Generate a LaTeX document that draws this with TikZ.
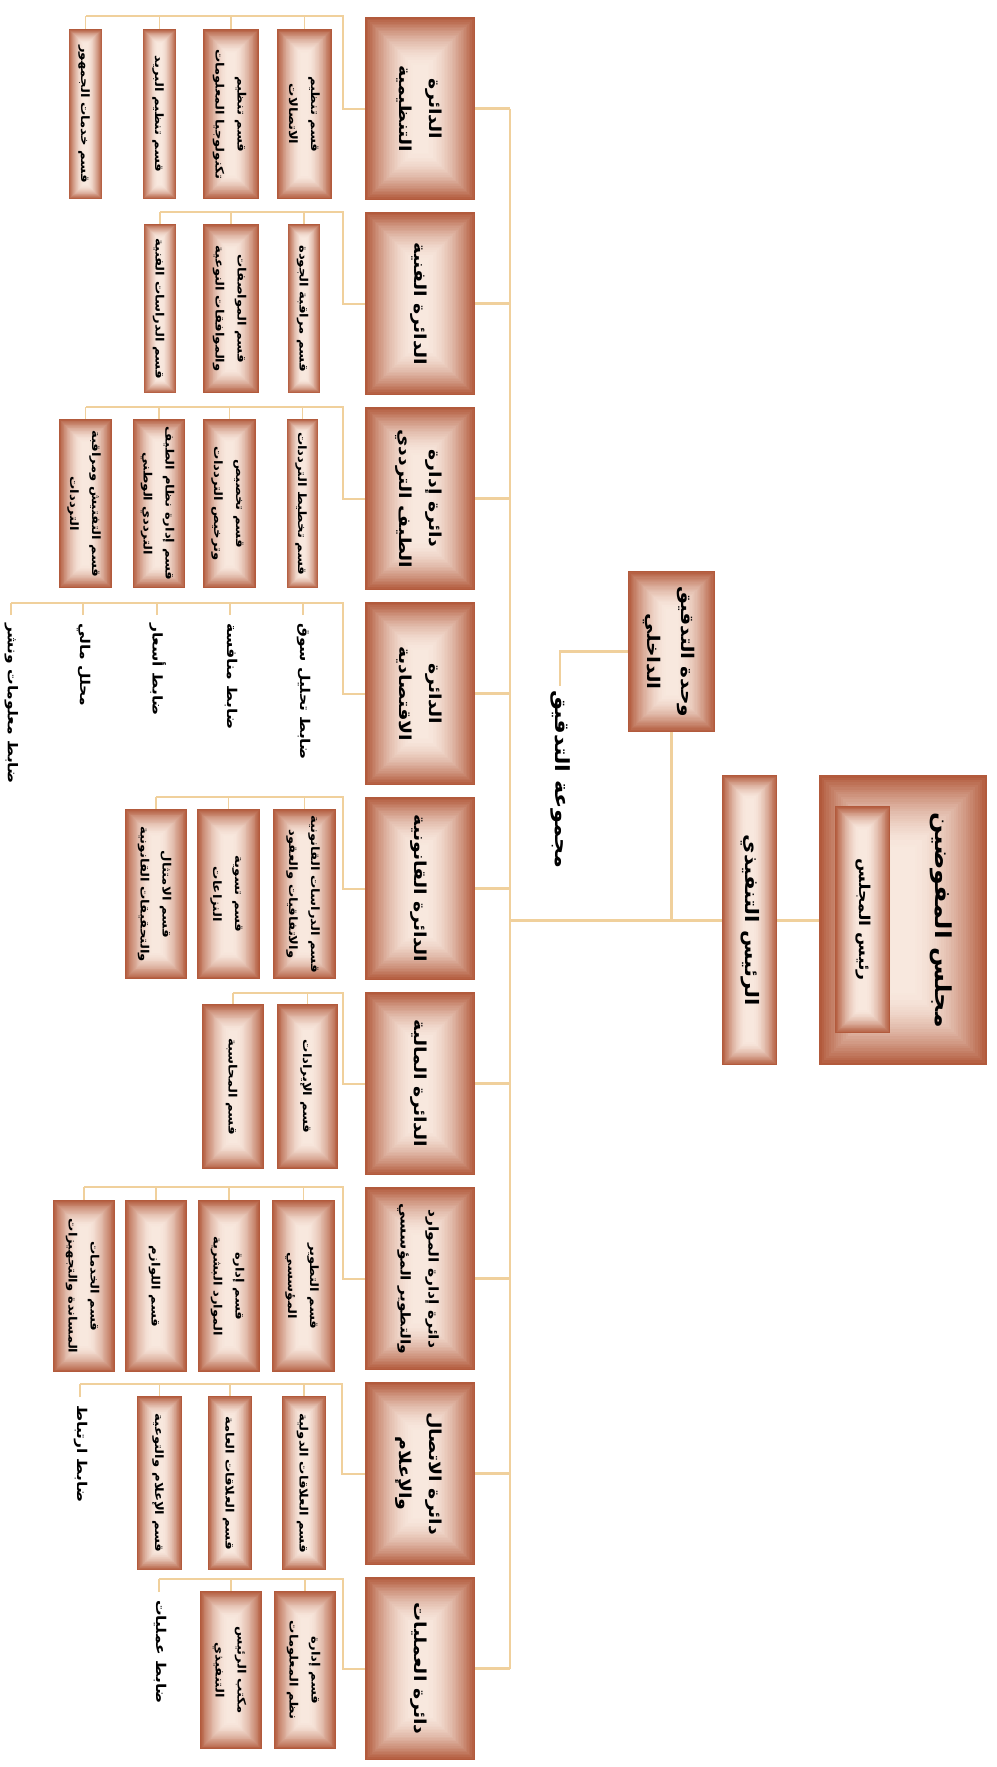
\documentclass[tikz,border=0pt]{standalone}
\usepackage{fontspec}
\usepackage{graphicx}
\newfontfamily\arabicfont[Script=Arabic]{DejaVu Sans}
\TeXXeTstate=1
\definecolor{gDark}{RGB}{178,90,60}
\definecolor{gLight}{RGB}{248,232,222}
\definecolor{lineC}{RGB}{240,208,156}
\newcommand\rl[1]{\beginR #1\endR}
\newcommand\rtxt[3]{\rotatebox{-90}{\scalebox{1.15}[1]{\fontsize{#1}{#2}\selectfont\arabicfont\bfseries\begin{tabular}{@{}c@{}}#3\end{tabular}}}}
\newcommand\sbx[6]{\node[gbox, minimum width=#4pt, minimum height=#5pt, anchor=north] (#1) at (#2,#3) {\rtxt{11.5}{22}{#6}};}
\begin{document}
\begin{tikzpicture}[x=1pt,y=-1pt,
  gbox/.style={rectangle, inner sep=0pt, path picture={%
    \pgfpointdiff{\pgfpointanchor{path picture bounding box}{south west}}{\pgfpointanchor{path picture bounding box}{north east}}%
    \pgfgetlastxy{\gw}{\gh}%
    \pgfmathsetmacro\gd{min(\gw,\gh)*0.43/30}%
    \foreach \i in {0,...,30}{%
      \pgfmathtruncatemacro\gp{100*(1-(1-\i/30)^1.7)}%
      \fill[gLight!\gp!gDark] ([xshift=\i*\gd pt, yshift=\i*\gd pt]path picture bounding box.south west) rectangle ([xshift=-\i*\gd pt, yshift=-\i*\gd pt]path picture bounding box.north east);
    }}},
  dbox/.style={gbox, minimum width=110pt, minimum height=183pt, anchor=north west},
  item/.style={anchor=north, inner sep=0pt},
  conn/.style={draw=lineC, line width=2.6pt},
  sconn/.style={draw=lineC, line width=1.8pt}]
\useasboundingbox (0,0) rectangle (996,1767);

% top of hierarchy
\node[gbox, minimum width=168pt, minimum height=290pt, anchor=north west] (board) at (819,775) {};
\node[gbox, minimum width=55pt, minimum height=227pt, anchor=north west] (chair) at (835,806) {\rtxt{15}{18}{\rl{رئيس المجلس}}};
\node (boardlbl) at (941,920) {\rtxt{22}{26}{\rl{مجلس المفوضين}}};
\node[gbox, minimum width=55pt, minimum height=290pt, anchor=north west] (ceo) at (722,775) {\rtxt{18.5}{22}{\rl{الرئيس التنفيذي}}};
\node[gbox, minimum width=87pt, minimum height=161pt, anchor=north west] (audit) at (628,571) {\rtxt{17.5}{34}{\rl{وحدة التدقيق}\\\rl{الداخلي}}};
\node[item] (alabel) at (560,690) {\rtxt{19.5}{22}{\rl{مجموعة التدقيق}}};

% departments
\node[dbox] (d1) at (365,17) {\rtxt{16.5}{30}{\rl{الدائرة}\\\rl{التنظيمية}}};
\node[dbox] (d2) at (365,212) {\rtxt{16.5}{30}{\rl{الدائرة الفنية}}};
\node[dbox] (d3) at (365,407) {\rtxt{16.5}{30}{\rl{دائرة إدارة}\\\rl{الطيف الترددي}}};
\node[dbox] (d4) at (365,602) {\rtxt{16.5}{30}{\rl{الدائرة}\\\rl{الاقتصادية}}};
\node[dbox] (d5) at (365,797) {\rtxt{16.5}{30}{\rl{الدائرة القانونية}}};
\node[dbox] (d6) at (365,992) {\rtxt{16.5}{30}{\rl{الدائرة المالية}}};
\node[dbox] (d7) at (365,1187) {\rtxt{13.5}{28}{\rl{دائرة إدارة الموارد}\\\rl{والتطوير المؤسسي}}};
\node[dbox] (d8) at (365,1382) {\rtxt{16.5}{30}{\rl{دائرة الاتصال}\\\rl{والإعلام}}};
\node[dbox] (d9) at (365,1577) {\rtxt{16.5}{30}{\rl{دائرة العمليات}}};

% sections
\sbx{s11}{304.5}{29}{55}{170}{\rl{قسم تنظيم}\\\rl{الاتصالات}}
\sbx{s12}{231}{29}{56}{170}{\rl{قسم تنظيم}\\\rl{تكنولوجيا المعلومات}}
\sbx{s13}{159.5}{29}{33}{170}{\rl{قسم تنظيم البريد}}
\sbx{s14}{85.5}{29}{33}{170}{\rl{قسم خدمات الجمهور}}

\sbx{s21}{304}{224}{32}{169}{\rl{قسم مراقبة الجودة}}
\sbx{s22}{231}{224}{56}{169}{\rl{قسم المواصفات}\\\rl{والموافقات النوعية}}
\sbx{s23}{160}{224}{32}{169}{\rl{قسم الدراسات الفنية}}

\sbx{s31}{302.5}{419}{31}{169}{\rl{قسم تخطيط الترددات}}
\sbx{s32}{229.5}{419}{53}{169}{\rl{قسم تخصيص}\\\rl{وترخيص الترددات}}
\sbx{s33}{159}{419}{52}{169}{\rl{قسم إدارة نظام الطيف}\\\rl{الترددي الوطني}}
\sbx{s34}{85.5}{419}{53}{169}{\rl{قسم التفتيش ومراقبة}\\\rl{الترددات}}

\node[item] (i41) at (303,623) {\rtxt{13.5}{15}{\rl{ضابط تحليل سوق}}};
\node[item] (i42) at (230,623) {\rtxt{13.5}{15}{\rl{ضابط منافسة}}};
\node[item] (i43) at (157,623) {\rtxt{13.5}{15}{\rl{ضابط أسعار}}};
\node[item] (i44) at (83,623) {\rtxt{13.5}{15}{\rl{محلل مالي}}};
\node[item] (i45) at (11,623) {\rtxt{13.5}{15}{\rl{ضابط معلومات ونشر}}};

\sbx{s51}{304.5}{809}{63}{170}{\rl{قسم الدراسات القانونية}\\\rl{والاتفاقيات والعقود}}
\sbx{s52}{228.5}{809}{63}{170}{\rl{قسم تسوية}\\\rl{النزاعات}}
\sbx{s53}{156}{809}{62}{170}{\rl{قسم الامتثال}\\\rl{والتحقيقات القانونية}}

\sbx{s61}{307.5}{1004}{61}{165}{\rl{قسم الإيرادات}}
\sbx{s62}{233}{1004}{62}{165}{\rl{قسم المحاسبة}}

\sbx{s71}{303.5}{1200}{63}{172}{\rl{قسم التطوير}\\\rl{المؤسسي}}
\sbx{s72}{229}{1200}{62}{172}{\rl{قسم إدارة}\\\rl{الموارد البشرية}}
\sbx{s73}{156}{1200}{62}{172}{\rl{قسم اللوازم}}
\sbx{s74}{84}{1200}{62}{172}{\rl{قسم الخدمات}\\\rl{المساندة والتجهيزات}}

\sbx{s81}{304}{1396}{44}{174}{\rl{قسم العلاقات الدولية}}
\sbx{s82}{230}{1396}{44}{174}{\rl{قسم العلاقات العامة}}
\sbx{s83}{159.5}{1396}{45}{174}{\rl{قسم الإعلام والتوعية}}
\node[item] (i84) at (80,1405) {\rtxt{13.5}{15}{\rl{ضابط ارتباط}}};

\sbx{s91}{305}{1591}{62}{158}{\rl{قسم إدارة}\\\rl{نظم المعلومات}}
\sbx{s92}{231}{1591}{62}{158}{\rl{مكتب الرئيس}\\\rl{التنفيذي}}
\node[item] (i93) at (159,1600) {\rtxt{13.5}{15}{\rl{ضابط عمليات}}};

% main connectors
\coordinate (tTop) at (510,108.5);
\coordinate (tBot) at (510,1668.5);
\draw[conn] (tTop) -- (tBot);
\draw[conn] (board.west) -- (ceo.east);
\draw[conn] (ceo.west) -- (ceo.west -| tTop);
\draw[conn] (audit.south) -- (audit.south |- ceo.west);
\draw[conn] (audit.west) -| ([yshift=4pt]alabel.north);
\foreach \d in {1,...,9} \draw[conn] (d\d.east) -- (d\d.east -| tTop);

% department buses
\coordinate (b1) at (343,16);
\draw[sconn] (d1.west) -| (b1) -- (b1 -| s14.north);
\foreach \s in {s11,s12,s13,s14} \draw[sconn] (\s.north) -- (\s.north |- b1);

\coordinate (b2) at (343,212);
\draw[sconn] (d2.west) -| (b2) -- (b2 -| s23.north);
\foreach \s in {s21,s22,s23} \draw[sconn] (\s.north) -- (\s.north |- b2);

\coordinate (b3) at (343,407);
\draw[sconn] (d3.west) -| (b3) -- (b3 -| s34.north);
\foreach \s in {s31,s32,s33,s34} \draw[sconn] (\s.north) -- (\s.north |- b3);

\coordinate (b4) at (343,603);
\draw[sconn] (d4.west) -| (b4) -- (b4 -| i45.north);
\foreach \s in {i41,i42,i43,i44,i45} \draw[sconn] ([yshift=8pt]\s.north) -- (\s.north |- b4);

\coordinate (b5) at (343,797);
\draw[sconn] (d5.west) -| (b5) -- (b5 -| s53.north);
\foreach \s in {s51,s52,s53} \draw[sconn] (\s.north) -- (\s.north |- b5);

\coordinate (b6) at (343,993);
\draw[sconn] (d6.west) -| (b6) -- (b6 -| s62.north);
\foreach \s in {s61,s62} \draw[sconn] (\s.north) -- (\s.north |- b6);

\coordinate (b7) at (343,1187);
\draw[sconn] (d7.west) -| (b7) -- (b7 -| s74.north);
\foreach \s in {s71,s72,s73,s74} \draw[sconn] (\s.north) -- (\s.north |- b7);

\coordinate (b8) at (342,1384);
\draw[sconn] (d8.west) -| (b8) -- (b8 -| i84.north);
\foreach \s in {s81,s82,s83} \draw[sconn] (\s.north) -- (\s.north |- b8);
\draw[sconn] ([yshift=8pt]i84.north) -- (i84.north |- b8);

\coordinate (b9) at (343,1579);
\draw[sconn] (d9.west) -| (b9) -- (b9 -| i93.north);
\foreach \s in {s91,s92} \draw[sconn] (\s.north) -- (\s.north |- b9);
\draw[sconn] ([yshift=8pt]i93.north) -- (i93.north |- b9);
\end{tikzpicture}
\end{document}
